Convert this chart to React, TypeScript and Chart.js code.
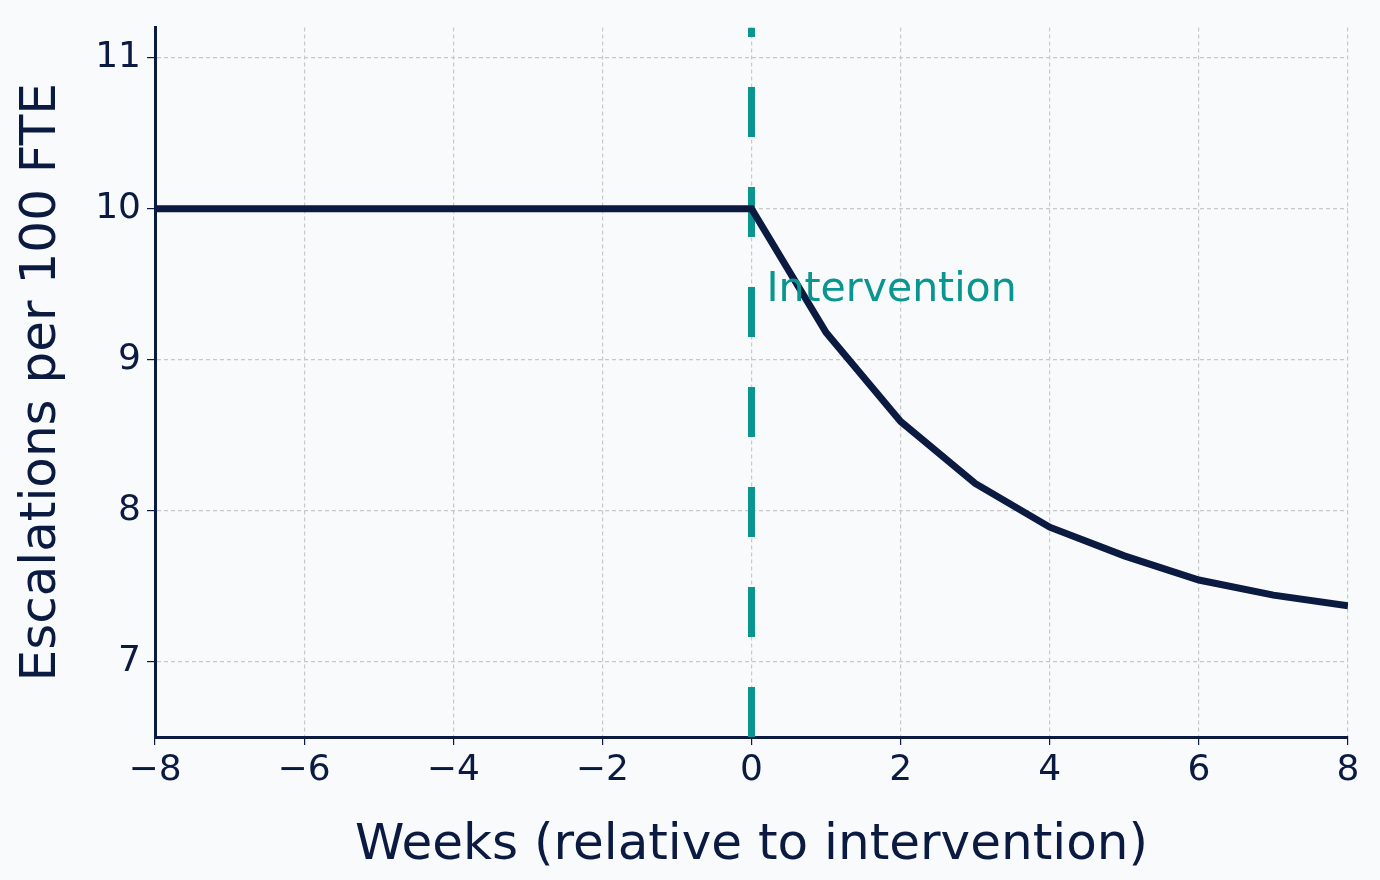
import React, { useEffect, useRef } from "react";
import { Chart, registerables } from "chart.js";
Chart.register(...registerables);

const weeks = [-8, -7, -6, -5, -4, -3, -2, -1, 0, 1, 2, 3, 4, 5, 6, 7, 8];
const escalations = [10, 10, 10, 10, 10, 10, 10, 10, 10, 9.18, 8.59, 8.18, 7.89, 7.7, 7.54, 7.44, 7.37];
const interventionWeek = 0;
const yRange = [6.5, 11.2];
const xRange = [-8, 8];
const yTicks = [7, 8, 9, 10, 11];
const xTicks = [-8, -6, -4, -2, 0, 2, 4, 6, 8];

const NAVY = "#0b1a40";
const TEAL = "#0a9690";
const FONT = "'DejaVu Sans', sans-serif";

export default function App() {
  const ref = useRef<HTMLCanvasElement>(null);
  useEffect(() => {
    document.body.style.margin = "0";
    document.body.style.background = "#f8fafc";
    const labelPlugin = {
      id: "lbl",
      afterDatasetsDraw(chart: any) {
        const { ctx, scales } = chart;
        ctx.save();
        ctx.fillStyle = TEAL;
        ctx.font = `41px ${FONT}`;
        ctx.textBaseline = "middle";
        ctx.fillText("Intervention", scales.x.getPixelForValue(0.2), scales.y.getPixelForValue(9.46));
        ctx.restore();
      },
    };
    const chart = new Chart(ref.current!, {
      type: "line",
      data: {
        datasets: [
          {
            data: weeks.map((w, i) => ({ x: w, y: escalations[i] })),
            borderColor: NAVY,
            borderWidth: 7,
            pointRadius: 0,
            tension: 0,
          },
          {
            data: [
              { x: interventionWeek, y: yRange[0] },
              { x: interventionWeek, y: yRange[1] },
            ],
            borderColor: TEAL,
            borderWidth: 7,
            borderDash: [50, 50],
            borderCapStyle: "butt",
            pointRadius: 0,
          },
        ],
      },
      plugins: [labelPlugin],
      options: {
        animation: false,
        responsive: false,
        layout: { padding: { top: 10, right: 32, left: 0, bottom: 0 } },
        plugins: { legend: { display: false }, tooltip: { enabled: false } },
        scales: {
          x: {
            type: "linear",
            min: xRange[0],
            max: xRange[1],
            afterBuildTicks: (s: any) => { s.ticks = xTicks.map((v) => ({ value: v })); },
            afterFit: (s: any) => { s.height = 143; },
            ticks: {
              color: NAVY,
              font: { family: FONT, size: 36 },
              padding: 4,
              callback: (v: any) => String(v).replace("-", "\u2212"),
            },
            grid: { color: "#c8c8c8", lineWidth: 1.2, drawTicks: true, tickLength: 8, tickColor: NAVY },
            border: { color: NAVY, width: 3, dash: [4, 3] as any },
            title: { display: true, text: "Weeks (relative to intervention)", color: NAVY, font: { family: FONT, size: 50 }, padding: { top: 4 } },
          },
          y: {
            min: yRange[0],
            max: yRange[1],
            afterBuildTicks: (s: any) => { s.ticks = yTicks.map((v) => ({ value: v })); },
            afterFit: (s: any) => { s.width = 155; },
            ticks: { color: NAVY, font: { family: FONT, size: 36 }, padding: 6 },
            grid: { color: "#c8c8c8", lineWidth: 1.2, tickLength: 8, tickColor: NAVY },
            border: { color: NAVY, width: 3, dash: [4, 3] as any },
            title: { display: true, text: "Escalations per 100 FTE", color: NAVY, font: { family: FONT, size: 50 }, padding: { top: 12, bottom: 0 } },
          },
        },
      } as any,
    });
    return () => chart.destroy();
  }, []);
  return <canvas ref={ref} width={1380} height={880} style={{ display: "block" }} />;
}
